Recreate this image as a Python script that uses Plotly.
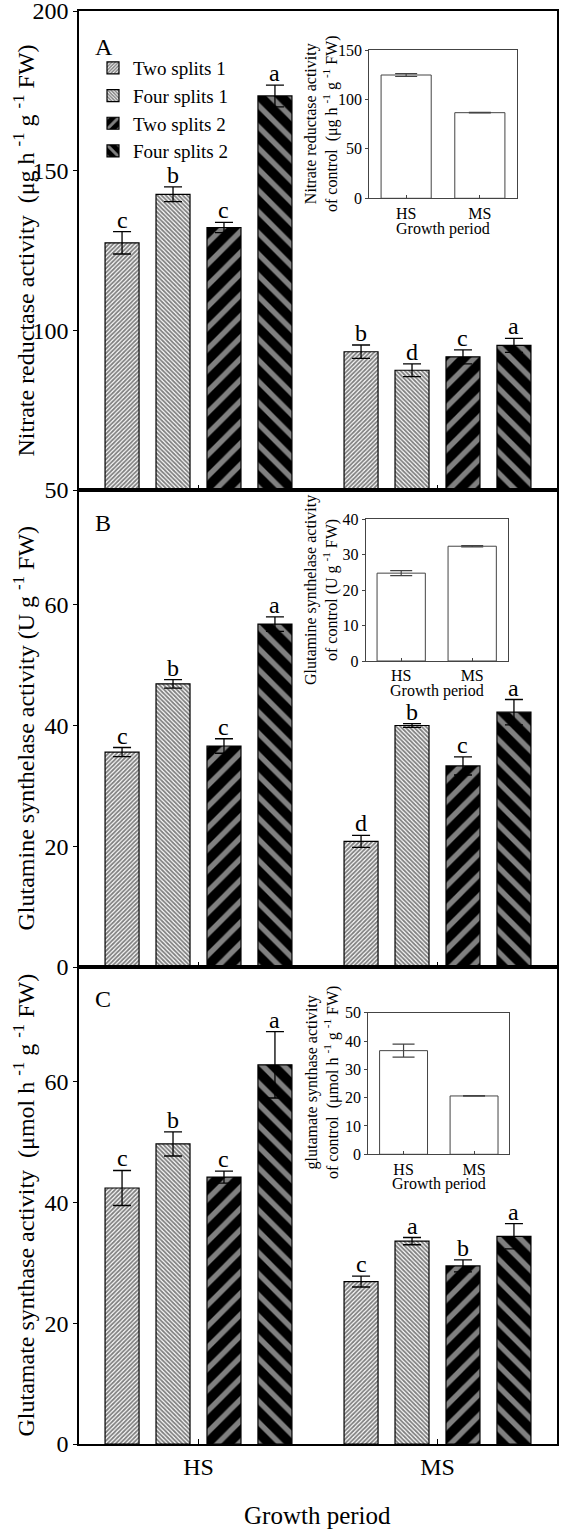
import plotly.graph_objects as go

# ---------------- data ----------------
periods = ["HS", "MS"]
series_names = ["Two splits 1", "Four splits 1", "Two splits 2", "Four splits 2"]

# Panel A: Nitrate reductase activity
nr_two1 = [127.4, 93.3]
nr_four1 = [142.6, 87.5]
nr_two2 = [132.2, 91.7]
nr_four2 = [173.4, 95.3]
nr_two1_err = [3.5, 2.1]
nr_four1_err = [2.3, 2.0]
nr_two2_err = [1.6, 2.2]
nr_four2_err = [3.4, 2.2]
nr_letters = [["c", "b"], ["b", "d"], ["c", "c"], ["a", "a"]]

# Panel B: Glutamine synthetase activity
gs_two1 = [35.6, 20.8]
gs_four1 = [46.9, 40.0]
gs_two2 = [36.6, 33.3]
gs_four2 = [56.8, 42.2]
gs_two1_err = [0.75, 1.0]
gs_four1_err = [0.7, 0.3]
gs_two2_err = [1.2, 1.5]
gs_four2_err = [1.2, 2.1]
gs_letters = [["c", "d"], ["b", "b"], ["c", "c"], ["a", "a"]]

# Panel C: Glutamate synthase activity
gg_two1 = [42.4, 26.9]
gg_four1 = [49.7, 33.6]
gg_two2 = [44.2, 29.5]
gg_four2 = [62.8, 34.4]
gg_two1_err = [2.9, 0.9]
gg_four1_err = [2.0, 0.6]
gg_two2_err = [1.0, 1.0]
gg_four2_err = [5.5, 2.1]
gg_letters = [["c", "c"], ["b", "a"], ["c", "b"], ["a", "a"]]

# Insets: control values
nr_ctrl = [124.7, 86.6]
nr_ctrl_err = [1.5, 0.3]
gs_ctrl = [24.8, 32.4]
gs_ctrl_err = [0.7, 0.2]
gg_ctrl = [36.6, 20.6]
gg_ctrl_err = [2.3, 0.1]

# ---------------- layout helpers ----------------
W, H = 563, 1532
ML, MR, MT, MB = 79, 6, 11, 88
PW = W - ML - MR
PH = H - MT - MB
FONT = "Liberation Serif, Times New Roman, serif"


def fx(px):
    return (px - ML) / PW


def fy(py):
    return (H - MB - py) / PH


BARGAP = 0.147
BARGROUPGAP = 0.333
XRANGE = [-0.5, 1.5]
px_per_unit = PW / (XRANGE[1] - XRANGE[0])
slot = (1 - BARGAP) / 4

patterns = [
    dict(color="white", pattern=dict(shape="/", fgcolor="black", size=3, solidity=0.6)),
    dict(color="white", pattern=dict(shape="\\", fgcolor="black", size=3, solidity=0.6)),
    dict(color="black", pattern=dict(shape="/", fgcolor="white", size=15, solidity=0.36)),
    dict(color="black", pattern=dict(shape="\\", fgcolor="white", size=15, solidity=0.36)),
]

panels = [
    dict(vals=[nr_two1, nr_four1, nr_two2, nr_four2],
         errs=[nr_two1_err, nr_four1_err, nr_two2_err, nr_four2_err],
         letters=nr_letters, xa="x", ya="y"),
    dict(vals=[gs_two1, gs_four1, gs_two2, gs_four2],
         errs=[gs_two1_err, gs_four1_err, gs_two2_err, gs_four2_err],
         letters=gs_letters, xa="x2", ya="y2"),
    dict(vals=[gg_two1, gg_four1, gg_two2, gg_four2],
         errs=[gg_two1_err, gg_four1_err, gg_two2_err, gg_four2_err],
         letters=gg_letters, xa="x3", ya="y3"),
]

fig = go.Figure()
annotations = []

for pi, p in enumerate(panels):
    for si in range(4):
        mk = dict(color=patterns[si]["color"], pattern=patterns[si]["pattern"],
                  line=dict(color="black", width=1.2))
        fig.add_trace(go.Bar(
            x=periods, y=p["vals"][si], name=series_names[si],
            marker=mk, xaxis=p["xa"], yaxis=p["ya"],
            showlegend=(pi == 0),
            error_y=dict(type="data", array=p["errs"][si], color="black",
                         thickness=1.3, width=9),
        ))
        offset_px = (si - 1.5) * slot * px_per_unit
        for gi, g in enumerate(periods):
            annotations.append(dict(
                x=g, y=p["vals"][si][gi] + p["errs"][si][gi],
                xref=p["xa"], yref=p["ya"], text=p["letters"][si][gi],
                showarrow=False, xshift=offset_px, yanchor="bottom", yshift=-3,
                font=dict(family=FONT, size=24, color="black")))

insets = [
    dict(vals=nr_ctrl, errs=nr_ctrl_err, xa="x4", ya="y4"),
    dict(vals=gs_ctrl, errs=gs_ctrl_err, xa="x5", ya="y5"),
    dict(vals=gg_ctrl, errs=gg_ctrl_err, xa="x6", ya="y6"),
]
for ins in insets:
    fig.add_trace(go.Bar(
        x=periods, y=ins["vals"], width=0.68, showlegend=False,
        marker=dict(color="white", line=dict(color="#444", width=1)),
        xaxis=ins["xa"], yaxis=ins["ya"],
        error_y=dict(type="data", array=ins["errs"], color="#444", thickness=1.2, width=11),
    ))

# ---------------- axes ----------------
main_y_domains = [[fy(490), 1.0], [fy(967), fy(490)], [0.0, fy(967)]]
main_y_ranges = [[50, 200], [0, 79], [0, 79]]
main_dticks = [50, 20, 20]
axis_font = dict(family=FONT, size=24, color="black")

layout_axes = {}
for i in range(3):
    sfx = "" if i == 0 else str(i + 1)
    layout_axes["xaxis" + sfx] = dict(
        domain=[0, 1], anchor="y" + sfx, type="category", range=XRANGE,
        showline=True, linecolor="black", linewidth=1.5, mirror=True,
        ticks="inside", ticklen=5, tickcolor="black", tickwidth=1,
        showticklabels=(i == 2), tickfont=axis_font, showgrid=False, zeroline=False,
        automargin=False,
    )
    layout_axes["yaxis" + sfx] = dict(
        domain=main_y_domains[i], anchor="x" + sfx, range=main_y_ranges[i],
        dtick=main_dticks[i], tick0=0, showline=True, linecolor="black", linewidth=1.5,
        mirror=True, ticks="outside", ticklen=4, tickcolor="black", tickwidth=1,
        tickfont=axis_font, showgrid=False, zeroline=False, automargin=False,
        ticklabeloverflow="allow",
    )

inset_boxes = [
    dict(x=[369.3, 516.7], y=[198.3, 50], rng=[0, 150], dt=50, lab_y=124, gp_y=229),
    dict(x=[365.7, 507.7], y=[661, 519.3], rng=[0, 40], dt=10, lab_y=590, gp_y=691),
    dict(x=[368.3, 509.3], y=[1154.3, 1012.7], rng=[0, 50], dt=10, lab_y=1083, gp_y=1184),
]
inset_font = dict(family=FONT, size=16, color="black")
for k, box in enumerate(inset_boxes):
    n = str(k + 4)
    layout_axes["xaxis" + n] = dict(
        domain=[fx(box["x"][0]), fx(box["x"][1])], anchor="y" + n, type="category",
        range=XRANGE, showline=True, linecolor="#444", linewidth=1, mirror=True,
        ticks="inside", ticklen=3, tickcolor="#444", tickfont=inset_font,
        showgrid=False, zeroline=False, automargin=False,
    )
    layout_axes["yaxis" + n] = dict(
        domain=[fy(box["y"][0]), fy(box["y"][1])], anchor="x" + n, range=box["rng"],
        dtick=box["dt"], tick0=0, showline=True, linecolor="#444", linewidth=1, mirror=True,
        ticks="outside", ticklen=3, tickcolor="#444", tickfont=inset_font,
        showgrid=False, zeroline=False, automargin=False, ticklabeloverflow="allow",
    )
    annotations.append(dict(text="Growth period", x=(fx(box["x"][0]) + fx(box["x"][1])) / 2,
                            y=fy(box["gp_y"]), xref="paper", yref="paper", showarrow=False,
                            xanchor="center", yanchor="middle", font=inset_font))

# ---------------- text annotations ----------------
main_titles = [
    ("Nitrate reductase activity  (μg h <sup>-1</sup> g <sup>-1</sup> FW)", (11 + 490) / 2),
    ("Glutamine synthelase activity (U g <sup>-1</sup> FW)", (490 + 967) / 2),
    ("Glutamate synthase activity  (μmol h <sup>-1</sup> g <sup>-1</sup> FW)", (967 + 1444) / 2),
]
for txt, cy in main_titles:
    annotations.append(dict(text=txt, x=fx(23), y=fy(cy), xref="paper", yref="paper",
                            textangle=-90, showarrow=False, xanchor="center", yanchor="middle",
                            font=dict(family=FONT, size=24, color="black")))

annotations.append(dict(text="Growth period", x=fx(317), y=fy(1515), xref="paper", yref="paper",
                        showarrow=False, xanchor="center", yanchor="middle",
                        font=dict(family=FONT, size=25, color="black")))

inset_titles = [
    "Nitrate reductase activity<br>of control  (μg h <sup>-1</sup> g <sup>-1</sup> FW)",
    "Glutamine synthelase activity<br>of control (U g <sup>-1</sup> FW)",
    "glutamate synthase activity<br>of control  (μmol h <sup>-1</sup> g <sup>-1</sup> FW)",
]
for txt, box in zip(inset_titles, inset_boxes):
    annotations.append(dict(text=txt, x=fx(322), y=fy(box["lab_y"]), xref="paper", yref="paper",
                            textangle=-90, showarrow=False, xanchor="center", yanchor="middle",
                            font=dict(family=FONT, size=16, color="black")))

for letter, (lx, ly) in zip(["A", "B", "C"], [(104, 47), (103, 523), (103, 999)]):
    annotations.append(dict(text=letter, x=fx(lx), y=fy(ly), xref="paper", yref="paper",
                            showarrow=False, xanchor="center", yanchor="middle",
                            font=dict(family=FONT, size=24, color="black")))

fig.update_layout(
    width=W, height=H,
    margin=dict(l=ML, r=MR, t=MT, b=MB, autoexpand=False),
    paper_bgcolor="white", plot_bgcolor="white",
    barmode="group", bargap=BARGAP, bargroupgap=BARGROUPGAP,
    font=dict(family=FONT, color="black"),
    legend=dict(x=fx(93), y=fy(49), xanchor="left", yanchor="top",
                font=dict(family=FONT, size=19, color="black"),
                bgcolor="rgba(0,0,0,0)", borderwidth=0, tracegroupgap=0),
    annotations=annotations,
    **layout_axes,
)

fig.write_html("out.html", config={"displayModeBar": False},
               post_script="document.body.style.margin='0px';")
